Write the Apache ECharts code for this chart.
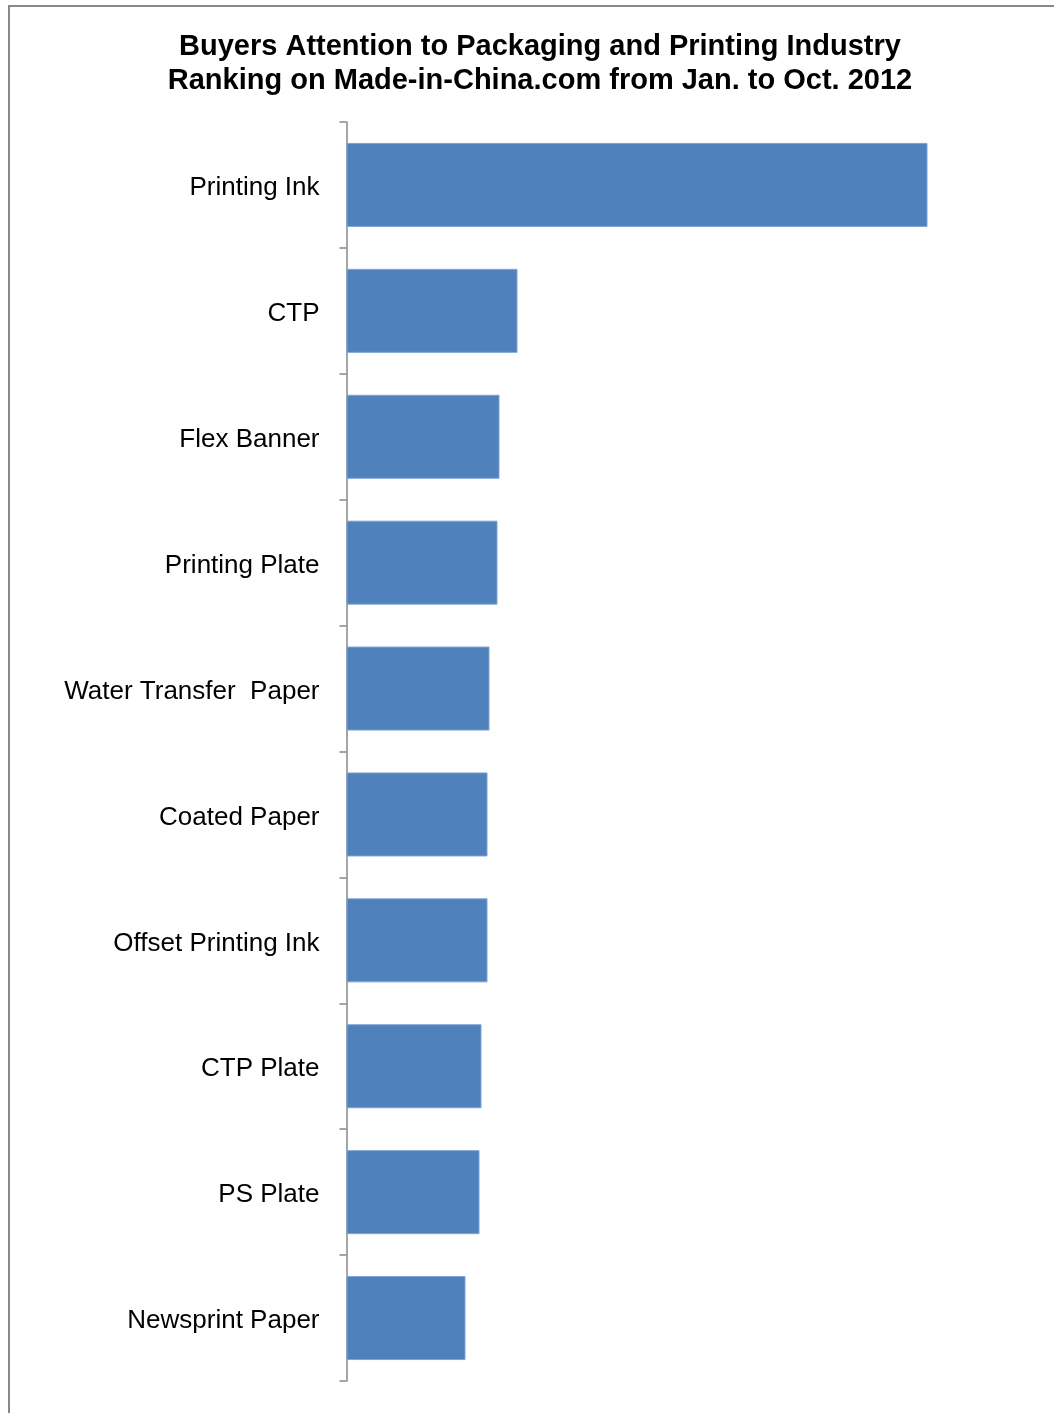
<!DOCTYPE html>
<html>
<head>
<meta charset="utf-8">
<script src="https://cdn.jsdelivr.net/npm/echarts@6/dist/echarts.min.js"></script>
<style>html,body{margin:0;padding:0;background:#fff;}#c{width:1054px;height:1413px;}</style>
</head>
<body>
<div id="c"></div>
<script>
const categories = ["Printing Ink","CTP","Flex Banner","Printing Plate","Water Transfer  Paper","Coated Paper","Offset Printing Ink","CTP Plate","PS Plate","Newsprint Paper"];
const values = [581,171,153,151,143,141,141,135,133,119];
const titleText = "Buyers Attention to Packaging and Printing Industry\nRanking on Made-in-China.com from Jan. to Oct. 2012";

const chart = echarts.init(document.getElementById('c'));
chart.setOption({
  animation: false,
  backgroundColor: '#fff',
  title: {
    text: titleText,
    left: 535,
    top: 25,
    textAlign: 'center',
    textStyle: {fontFamily: 'Liberation Sans', fontWeight: 'bold', fontSize: 29, color: '#000', lineHeight: 34}
  },
  graphic: [{
    type: 'rect', shape: {x: 9, y: 6, width: 1200, height: 1600},
    style: {fill: 'none', stroke: '#888', lineWidth: 2}, silent: true, z: -1
  }],
  grid: {left: 346.5, top: 122, bottom: 32, width: 600},
  xAxis: {type: 'value', min: 0, max: 600, show: false},
  yAxis: {
    type: 'category', data: categories, inverse: true,
    axisLine: {show: true, lineStyle: {color: '#888', width: 1.5}},
    axisTick: {show: true, length: 7, lineStyle: {color: '#888', width: 1.5}},
    axisLabel: {
      margin: 27, fontFamily: 'Liberation Sans', fontSize: 26, color: '#000',
      formatter: v => '{a|' + v + '}',
      rich: {a: {fontFamily: 'Liberation Sans', fontSize: 26, color: '#000', padding: [6, 0, 0, 0]}}
    },
    splitLine: {show: false}
  },
  series: [{
    type: 'bar', data: values, barWidth: 84,
    itemStyle: {color: '#4F81BD', borderColor: '#7EA3D3', borderWidth: 1}
  }]
});
</script>
</body>
</html>
